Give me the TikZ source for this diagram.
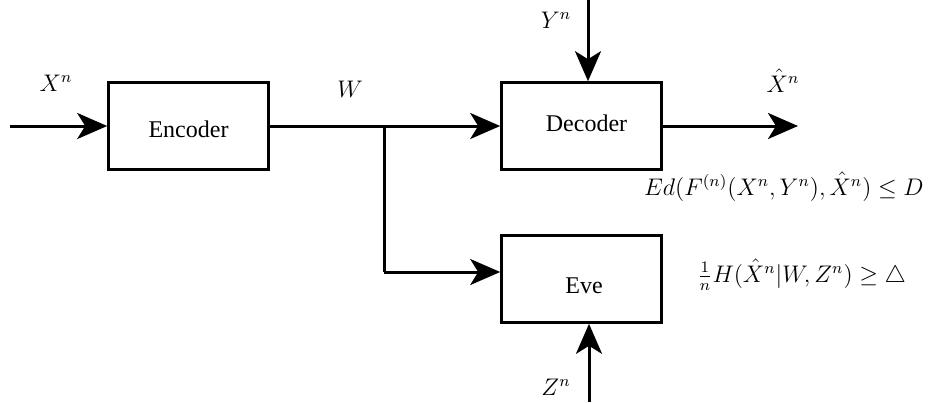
\documentclass[tikz,border=0pt]{standalone}
\usepackage{fontspec}
\setmainfont{Liberation Serif}
\usetikzlibrary{arrows.meta}
\begin{document}
\begin{tikzpicture}[x=0.5pt,y=-0.5pt,font=\fontsize{12}{14.4}\selectfont,
  blockbox/.style={draw,line width=1.3pt,minimum width=80pt,minimum height=43.5pt,inner sep=0pt,text depth=0pt},
  sig/.style={line width=1.5pt,-{Stealth[length=15pt,width=13pt,inset=4pt]}},
  wire/.style={line width=1.5pt},
  lbl/.style={anchor=base,inner sep=0pt}]
\useasboundingbox (0,0) rectangle (930,402);
\node[blockbox,text height=11pt] (enc) at (188.5,126) {Encoder};
\node[blockbox,text height=5pt] (dec) at (581.5,126) {\hspace{5pt}Decoder};
\node[blockbox,text height=14pt] (eve) at (581.5,279) {\hspace{2.5pt}Eve};
\coordinate (in) at (10,126);
\coordinate (b1) at (384,126);
\coordinate (b2) at (384,272);
\coordinate (out) at (798,126);
\coordinate (yin) at (588,0);
\coordinate (zin) at (589,402);
\draw[sig] (in) -- (enc.west);
\draw[sig] (enc.east) -- (dec.west);
\draw[wire] (b1) -- (b2);
\draw[sig] (b2) -- (b2 -| eve.west);
\draw[sig] (dec.east) -- (out);
\draw[sig] (yin) -- (yin |- dec.north);
\draw[sig] (zin) -- (zin |- eve.south);
\node[lbl] (lx) at (56,91) {$X^n$};
\node[lbl] (lw) at (350,97) {$W$};
\node[lbl] (ly) at (556,28) {$Y^n$};
\node[lbl] (lxh) at (783,92) {$\hat{X}^n$};
\node[lbl] (lz) at (556,395) {$Z^n$};
\node[anchor=base east,inner sep=0pt] (f1) at (924,195) {$Ed(F^{(n)}(X^n,Y^n),\hat{X}^n)\leq D$};
\node[anchor=base west,inner sep=0pt] (f2) at (697,282) {$\frac{1}{n}H(\hat{X}^n|W,Z^n)\geq\triangle$};
\end{tikzpicture}
\end{document}
